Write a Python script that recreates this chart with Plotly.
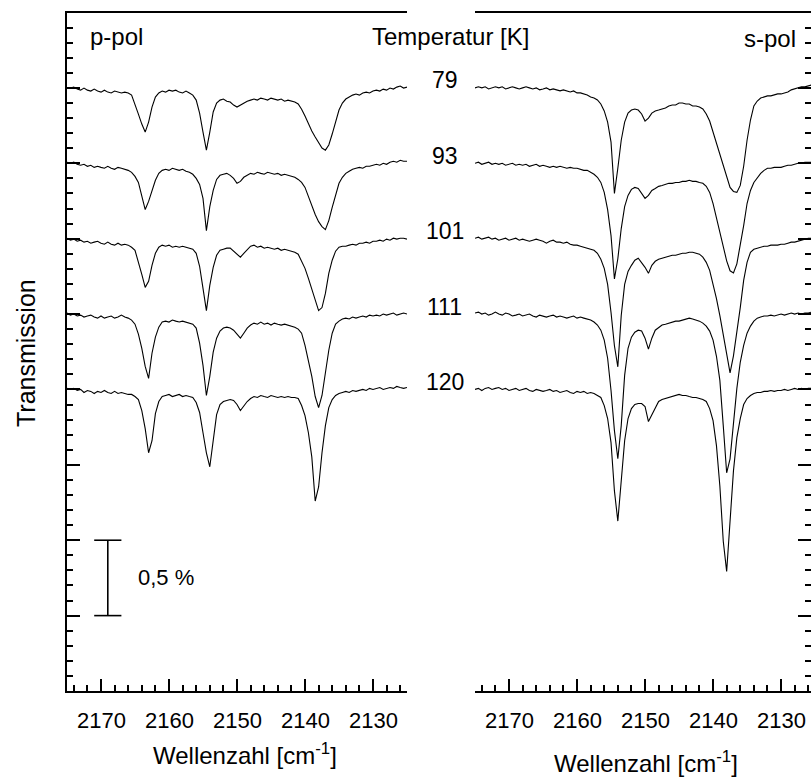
import plotly.graph_objects as go

# ---------------- data ----------------
wavenumber = [
    2175.0, 2174.5, 2174.0, 2173.5, 2173.0, 2172.5, 2172.0, 2171.5, 2171.0, 2170.5,
    2170.0, 2169.5, 2169.0, 2168.5, 2168.0, 2167.5, 2167.0, 2166.5, 2166.0, 2165.5,
    2165.0, 2164.5, 2164.0, 2163.5, 2163.0, 2162.5, 2162.0, 2161.5, 2161.0, 2160.5,
    2160.0, 2159.5, 2159.0, 2158.5, 2158.0, 2157.5, 2157.0, 2156.5, 2156.0, 2155.5,
    2155.0, 2154.5, 2154.0, 2153.5, 2153.0, 2152.5, 2152.0, 2151.5, 2151.0, 2150.5,
    2150.0, 2149.5, 2149.0, 2148.5, 2148.0, 2147.5, 2147.0, 2146.5, 2146.0, 2145.5,
    2145.0, 2144.5, 2144.0, 2143.5, 2143.0, 2142.5, 2142.0, 2141.5, 2141.0, 2140.5,
    2140.0, 2139.5, 2139.0, 2138.5, 2138.0, 2137.5, 2137.0, 2136.5, 2136.0, 2135.5,
    2135.0, 2134.5, 2134.0, 2133.5, 2133.0, 2132.5, 2132.0, 2131.5, 2131.0, 2130.5,
    2130.0, 2129.5, 2129.0, 2128.5, 2128.0, 2127.5, 2127.0, 2126.5, 2126.0, 2125.5,
    2125.0]

temperatures = ["79", "93", "101", "111", "120"]
offsets = [4.0, 3.5, 3.0, 2.5, 2.0]   # vertical stacking offsets (%)

# transmission change (%) relative to each trace's baseline -- p-polarisation
p_79 = [0.003, -0.001, 0.005, -0.008, -0.015, -0.001, -0.015, -0.021, -0.008, -0.021,
        -0.028, -0.015, -0.028, -0.034, -0.021, -0.028, -0.034, -0.028, -0.034, -0.048,
        -0.107, -0.174, -0.240, -0.293, -0.227, -0.127, -0.061, -0.034, -0.021, -0.028,
        -0.015, -0.021, -0.015, -0.028, -0.034, -0.021, -0.034, -0.048, -0.081, -0.167,
        -0.293, -0.413, -0.293, -0.160, -0.101, -0.081, -0.074, -0.088, -0.094, -0.114,
        -0.127, -0.114, -0.101, -0.088, -0.081, -0.074, -0.081, -0.068, -0.074, -0.081,
        -0.068, -0.074, -0.081, -0.074, -0.088, -0.081, -0.088, -0.094, -0.107, -0.141,
        -0.187, -0.240, -0.286, -0.326, -0.359, -0.399, -0.413, -0.379, -0.306, -0.227,
        -0.147, -0.101, -0.074, -0.061, -0.048, -0.041, -0.048, -0.034, -0.028, -0.034,
        -0.021, -0.015, -0.021, -0.008, -0.015, -0.001, -0.008, 0.005, 0.012, -0.001,
        0.005]
p_93 = [0.007, 0.0, 0.007, -0.007, -0.013, -0.007, -0.020, -0.013, -0.027, -0.020,
        -0.027, -0.033, -0.020, -0.033, -0.040, -0.027, -0.033, -0.040, -0.047, -0.060,
        -0.087, -0.127, -0.213, -0.307, -0.253, -0.180, -0.113, -0.067, -0.047, -0.040,
        -0.047, -0.033, -0.040, -0.047, -0.040, -0.053, -0.060, -0.073, -0.100, -0.140,
        -0.233, -0.447, -0.287, -0.180, -0.107, -0.080, -0.073, -0.067, -0.080, -0.100,
        -0.133, -0.120, -0.093, -0.080, -0.067, -0.073, -0.060, -0.067, -0.073, -0.060,
        -0.067, -0.073, -0.067, -0.080, -0.073, -0.080, -0.087, -0.093, -0.107, -0.127,
        -0.160, -0.220, -0.287, -0.340, -0.387, -0.420, -0.440, -0.380, -0.293, -0.213,
        -0.133, -0.093, -0.067, -0.053, -0.040, -0.033, -0.027, -0.033, -0.020, -0.020,
        -0.013, -0.007, -0.013, 0.0, -0.007, 0.007, 0.013, 0.007, 0.020, 0.013,
        0.013]
p_101 = [0.003, -0.010, -0.003, -0.017, -0.010, -0.023, -0.017, -0.030, -0.023, -0.017,
         -0.030, -0.037, -0.023, -0.037, -0.043, -0.030, -0.043, -0.037, -0.043, -0.057,
         -0.077, -0.150, -0.237, -0.323, -0.283, -0.177, -0.097, -0.057, -0.043, -0.050,
         -0.043, -0.057, -0.050, -0.057, -0.050, -0.057, -0.063, -0.070, -0.097, -0.183,
         -0.330, -0.477, -0.310, -0.190, -0.110, -0.077, -0.070, -0.063, -0.063, -0.083,
         -0.103, -0.123, -0.097, -0.070, -0.050, -0.043, -0.057, -0.050, -0.063, -0.057,
         -0.063, -0.070, -0.063, -0.077, -0.070, -0.077, -0.083, -0.090, -0.103, -0.150,
         -0.197, -0.263, -0.330, -0.403, -0.477, -0.457, -0.363, -0.230, -0.143, -0.083,
         -0.057, -0.050, -0.050, -0.043, -0.037, -0.043, -0.030, -0.030, -0.023, -0.030,
         -0.017, -0.017, -0.010, -0.017, -0.003, -0.010, 0.003, -0.003, 0.003, 0.003,
         -0.003]
p_111 = [0.007, -0.007, 0.0, -0.013, -0.007, -0.020, -0.013, -0.007, -0.020, -0.027,
         -0.013, -0.027, -0.020, -0.013, -0.027, -0.020, -0.007, -0.020, -0.027, -0.040,
         -0.067, -0.133, -0.227, -0.347, -0.427, -0.260, -0.153, -0.087, -0.053, -0.047,
         -0.053, -0.040, -0.047, -0.053, -0.047, -0.053, -0.060, -0.067, -0.093, -0.193,
         -0.340, -0.540, -0.413, -0.253, -0.160, -0.113, -0.093, -0.087, -0.093, -0.107,
         -0.133, -0.160, -0.127, -0.093, -0.073, -0.060, -0.067, -0.053, -0.067, -0.060,
         -0.073, -0.060, -0.067, -0.073, -0.067, -0.073, -0.080, -0.087, -0.100, -0.127,
         -0.207, -0.307, -0.413, -0.547, -0.620, -0.540, -0.393, -0.240, -0.127, -0.067,
         -0.047, -0.033, -0.027, -0.033, -0.020, -0.027, -0.020, -0.013, -0.020, -0.007,
         -0.013, -0.007, -0.013, 0.0, -0.007, 0.0, 0.007, -0.007, 0.0, 0.007,
         0.0]
p_120 = [0.007, 0.0, 0.007, -0.007, 0.0, -0.020, -0.007, -0.013, -0.027, -0.013,
         -0.020, -0.007, -0.020, -0.027, -0.013, -0.027, -0.020, -0.027, -0.033, -0.033,
         -0.047, -0.067, -0.140, -0.260, -0.420, -0.340, -0.160, -0.080, -0.047, -0.040,
         -0.033, -0.047, -0.040, -0.033, -0.047, -0.040, -0.047, -0.053, -0.087, -0.153,
         -0.287, -0.420, -0.513, -0.340, -0.167, -0.100, -0.080, -0.073, -0.067, -0.073,
         -0.100, -0.140, -0.107, -0.080, -0.060, -0.047, -0.053, -0.040, -0.047, -0.053,
         -0.040, -0.047, -0.053, -0.047, -0.053, -0.047, -0.053, -0.053, -0.060, -0.107,
         -0.173, -0.287, -0.447, -0.740, -0.647, -0.420, -0.240, -0.120, -0.067, -0.040,
         -0.027, -0.020, -0.013, -0.020, -0.007, -0.013, -0.007, 0.0, -0.007, 0.007,
         0.0, 0.007, 0.013, 0.0, 0.007, 0.013, 0.007, 0.020, 0.013, 0.007,
         0.013]

# s-polarisation
s_79 = [0.0, 0.007, 0.0, 0.007, -0.007, 0.0, 0.007, 0.0, 0.007, -0.007,
        0.0, 0.007, 0.0, -0.007, 0.0, 0.007, 0.0, -0.007, 0.0, -0.013,
        -0.007, 0.0, -0.013, -0.007, -0.013, -0.020, -0.013, -0.020, -0.027, -0.020,
        -0.033, -0.033, -0.040, -0.047, -0.060, -0.067, -0.080, -0.107, -0.153, -0.227,
        -0.360, -0.700, -0.533, -0.347, -0.227, -0.167, -0.147, -0.140, -0.147, -0.173,
        -0.220, -0.200, -0.167, -0.153, -0.147, -0.140, -0.133, -0.120, -0.113, -0.113,
        -0.100, -0.100, -0.107, -0.107, -0.120, -0.120, -0.127, -0.140, -0.173, -0.220,
        -0.293, -0.367, -0.447, -0.527, -0.600, -0.660, -0.687, -0.693, -0.647, -0.520,
        -0.347, -0.213, -0.120, -0.087, -0.067, -0.060, -0.053, -0.053, -0.047, -0.040,
        -0.040, -0.033, -0.027, -0.013, -0.007, 0.0, 0.007, 0.007, 0.013, 0.020,
        0.020]
s_93 = [0.0, 0.007, -0.007, 0.0, 0.007, -0.007, 0.0, -0.007, 0.0, -0.013,
        -0.007, 0.0, -0.013, -0.007, -0.013, -0.007, -0.020, -0.013, -0.007, -0.020,
        -0.013, -0.020, -0.027, -0.020, -0.027, -0.020, -0.027, -0.033, -0.027, -0.033,
        -0.033, -0.040, -0.047, -0.047, -0.060, -0.073, -0.093, -0.127, -0.193, -0.307,
        -0.480, -0.767, -0.633, -0.433, -0.287, -0.213, -0.173, -0.160, -0.167, -0.200,
        -0.233, -0.213, -0.180, -0.167, -0.153, -0.147, -0.140, -0.133, -0.133, -0.127,
        -0.127, -0.120, -0.120, -0.113, -0.120, -0.120, -0.127, -0.133, -0.153, -0.193,
        -0.267, -0.360, -0.460, -0.560, -0.647, -0.713, -0.727, -0.667, -0.547, -0.413,
        -0.267, -0.180, -0.127, -0.093, -0.067, -0.047, -0.033, -0.033, -0.027, -0.027,
        -0.027, -0.020, -0.013, -0.013, -0.007, 0.0, 0.0, 0.007, 0.007, 0.007,
        0.013]
s_101 = [0.003, 0.010, -0.003, 0.003, 0.010, -0.003, 0.003, -0.010, -0.003, 0.003,
         -0.010, -0.003, 0.003, -0.010, -0.003, -0.010, -0.017, -0.010, -0.003, -0.010,
         -0.017, -0.030, -0.017, -0.010, -0.023, -0.023, -0.030, -0.023, -0.037, -0.043,
         -0.043, -0.050, -0.057, -0.063, -0.070, -0.077, -0.097, -0.137, -0.197, -0.303,
         -0.490, -0.710, -0.850, -0.510, -0.303, -0.217, -0.177, -0.143, -0.130, -0.157,
         -0.190, -0.230, -0.177, -0.150, -0.137, -0.130, -0.123, -0.117, -0.110, -0.110,
         -0.103, -0.097, -0.097, -0.090, -0.090, -0.097, -0.103, -0.123, -0.157, -0.210,
         -0.297, -0.397, -0.510, -0.630, -0.777, -0.890, -0.777, -0.630, -0.457, -0.277,
         -0.157, -0.090, -0.070, -0.063, -0.057, -0.050, -0.050, -0.043, -0.043, -0.043,
         -0.037, -0.037, -0.030, -0.023, -0.023, -0.017, -0.010, -0.003, 0.003, 0.003,
         0.003]
s_111 = [0.007, 0.013, 0.0, 0.007, -0.007, 0.0, 0.013, 0.0, -0.007, 0.007,
         0.0, -0.013, -0.007, 0.0, -0.013, -0.007, 0.0, -0.013, -0.020, -0.007,
         -0.013, -0.020, -0.013, -0.007, -0.020, -0.013, -0.020, -0.027, -0.020, -0.013,
         -0.027, -0.020, -0.027, -0.033, -0.040, -0.053, -0.073, -0.107, -0.173, -0.293,
         -0.507, -0.773, -0.960, -0.740, -0.407, -0.227, -0.153, -0.120, -0.107, -0.113,
         -0.160, -0.233, -0.160, -0.107, -0.087, -0.073, -0.067, -0.060, -0.053, -0.047,
         -0.047, -0.040, -0.033, -0.027, -0.033, -0.040, -0.047, -0.060, -0.080, -0.113,
         -0.173, -0.280, -0.440, -0.740, -1.053, -0.960, -0.720, -0.493, -0.320, -0.207,
         -0.127, -0.080, -0.047, -0.027, -0.020, -0.013, -0.013, -0.007, -0.013, -0.007,
         0.0, -0.007, 0.0, 0.007, 0.0, 0.007, 0.0, 0.007, 0.007, 0.013,
         0.007]
s_120 = [0.0, 0.007, -0.007, 0.007, 0.013, 0.0, 0.007, 0.013, 0.0, 0.007,
         -0.007, 0.0, 0.007, -0.007, 0.0, 0.007, -0.007, -0.013, 0.0, -0.007,
         -0.013, -0.007, 0.0, -0.013, -0.007, -0.020, -0.013, -0.007, -0.020, -0.027,
         -0.013, -0.020, -0.013, -0.027, -0.020, -0.027, -0.040, -0.053, -0.107, -0.193,
         -0.353, -0.673, -0.873, -0.593, -0.340, -0.193, -0.127, -0.100, -0.093, -0.093,
         -0.113, -0.213, -0.167, -0.120, -0.080, -0.067, -0.060, -0.053, -0.047, -0.040,
         -0.033, -0.040, -0.040, -0.047, -0.053, -0.053, -0.060, -0.067, -0.080, -0.127,
         -0.207, -0.373, -0.640, -1.007, -1.207, -0.873, -0.540, -0.320, -0.193, -0.100,
         -0.060, -0.040, -0.027, -0.020, -0.020, -0.013, -0.013, -0.007, -0.013, -0.007,
         -0.007, 0.0, -0.007, 0.0, 0.007, 0.0, 0.007, 0.0, 0.007, 0.007,
         0.007]

p_pol = [p_79, p_93, p_101, p_111, p_120]
s_pol = [s_79, s_93, s_101, s_111, s_120]
for arr in p_pol + s_pol:
    assert len(arr) == len(wavenumber), len(arr)

x_ticks = [2170, 2160, 2150, 2140, 2130]
x_tick_labels = ["2170", "2160", "2150", "2140", "2130"]
scale_bar = [0.5, 1.0]   # 0,5 % bar

# ---------------- figure ----------------
W, H = 811, 778
FONT = "Liberation Sans, Arial, Helvetica, sans-serif"

fig = go.Figure()
for vals, off in zip(p_pol, offsets):
    fig.add_trace(go.Scatter(x=wavenumber, y=[off + v for v in vals], mode="lines",
                             line=dict(color="black", width=1.1), xaxis="x", yaxis="y",
                             showlegend=False, hoverinfo="skip"))
for vals, off in zip(s_pol, offsets):
    fig.add_trace(go.Scatter(x=wavenumber, y=[off + v for v in vals], mode="lines",
                             line=dict(color="black", width=1.1), xaxis="x2", yaxis="y2",
                             showlegend=False, hoverinfo="skip"))

y_dom = [87 / H, 1 - 12.5 / H]

def xax(domain, rng, anchor):
    return dict(domain=domain, range=rng, anchor=anchor, tickmode="array", tickvals=x_ticks,
                showticklabels=False, ticks="inside", ticklen=12, tickwidth=1.5,
                tickcolor="black", showline=True, linewidth=2, linecolor="black", mirror=True,
                showgrid=False, zeroline=False,
                minor=dict(ticks="inside", tick0=2130, dtick=2, ticklen=6, tickwidth=1.5,
                           tickcolor="black", showgrid=False))

def yax(side, anchor):
    return dict(domain=y_dom, range=[0, 4.5], anchor=anchor, side=side, tickmode="linear",
                tick0=0, dtick=0.5, ticks="inside", ticklen=13, tickwidth=1.5, tickcolor="black",
                showline=True, linewidth=2, linecolor="black", showticklabels=False,
                showgrid=False, zeroline=False,
                minor=dict(ticks="inside", tick0=0, dtick=0.1, ticklen=6, tickwidth=1.5,
                           tickcolor="black", showgrid=False))

fig.update_layout(
    width=W, height=H, margin=dict(l=0, r=0, t=0, b=0),
    paper_bgcolor="white", plot_bgcolor="white",
    font=dict(family=FONT, color="black"),
    xaxis=xax([67 / W, 407 / W], [2175, 2125], "y"),
    yaxis=yax("left", "x"),
    xaxis2=xax([475 / W, 1.0], [2175, 2125.6], "y2"),
    yaxis2=yax("right", "x2"),
)
fig.layout.yaxis2.matches = "y"

ann = []
def text(x, y, s, size, xanchor="center", **kw):
    ann.append(dict(x=x / W, y=1 - y / H, xref="paper", yref="paper", text=s, showarrow=False,
                    xanchor=xanchor, yanchor="middle", font=dict(size=size, color="black", family=FONT), **kw))

text(88, 37, "p-pol", 24, "left")
text(451, 36, "Temperatur [K]", 24)
text(798, 38, "s-pol", 24, "right")
text(26, 353, "Transmission", 25, textangle=-90)
text(245, 754, "Wellenzahl [cm<sup>-1</sup>]", 24)
text(646, 762, "Wellenzahl [cm<sup>-1</sup>]", 24)

# x tick labels, placed at the axes' own tick values
for xr in ("x", "x2"):
    for tv, tl in zip(x_ticks, x_tick_labels):
        ann.append(dict(x=tv, y=1 - 720 / H, xref=xr, yref="paper", text=tl, showarrow=False,
                        xanchor="center", yanchor="middle",
                        font=dict(size=22, color="black", family=FONT)))

for t, off in zip(temperatures, offsets):
    ann.append(dict(x=445 / W, y=off + 0.05, xref="paper", yref="y", text=t, showarrow=False,
                    xanchor="center", yanchor="middle", font=dict(size=23, color="black", family=FONT)))

# scale bar label
ann.append(dict(x=2164.9, y=sum(scale_bar) / 2, xref="x", yref="y", text="0,5 %", showarrow=False,
                xanchor="left", yanchor="middle", font=dict(size=22, color="black", family=FONT)))
fig.update_layout(annotations=ann)

# scale bar (0,5 %)
bar_line = dict(color="black", width=1.6)
fig.add_shape(type="line", xref="x", yref="y", x0=2169, x1=2169, y0=scale_bar[0], y1=scale_bar[1], line=bar_line)
for yv in scale_bar:
    fig.add_shape(type="line", xref="x", yref="y", x0=2171, x1=2167, y0=yv, y1=yv, line=bar_line)

fig.write_html("out.html")
